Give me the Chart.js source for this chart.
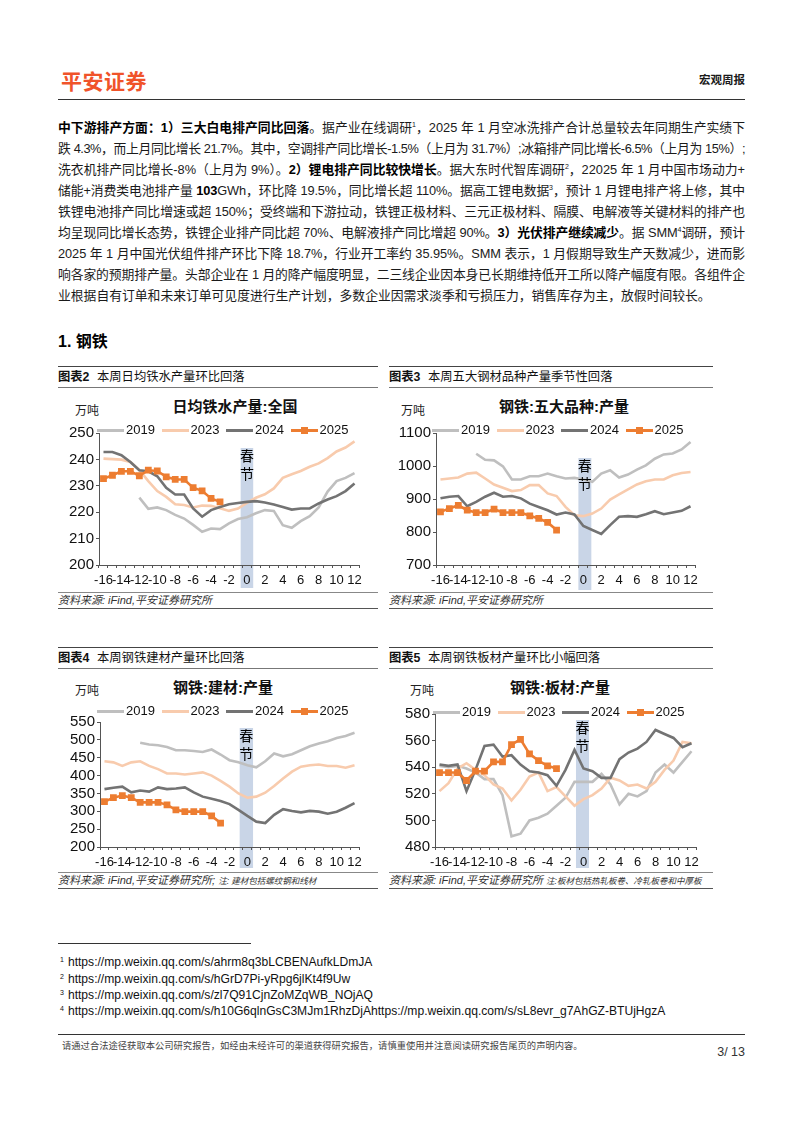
<!DOCTYPE html>
<html lang="zh-CN">
<head>
<meta charset="utf-8">
<title>宏观周报</title>
<script src="https://cdn.jsdelivr.net/npm/chart.js@4.4.1/dist/chart.umd.min.js"></script>
<style>
  html, body { margin: 0; padding: 0; background: #fff; }
  body { width: 802px; height: 1133px; position: relative; overflow: hidden;
         font-family: "Liberation Sans", Arial, "Noto Sans CJK SC", sans-serif; color: #1a1a1a; }
  .abs { position: absolute; }
  .logo { left: 61px; top: 66px; font-size: 21px; font-weight: bold; color: #f0532a;
          font-family: "Noto Sans CJK SC", sans-serif; line-height: 28px; letter-spacing: 0.5px; }
  .rtitle { left: 690px; top: 72px; width: 55px; text-align: right; font-size: 11.5px; font-weight: bold; line-height: 16px; }
  .hline { left: 58px; width: 687px; height: 0; border-top: 1px solid #333; }
  .para { left: 58px; top: 117px; width: 687px; font-size: 12.8px; line-height: 21px; }
  .para div { white-space: nowrap; text-align: justify; text-align-last: justify; }
  .para div.last { text-align-last: left; }
  .para b { color: #000; }
  .para sup { font-size: 7px; vertical-align: 5px; line-height: 0; }
  .sec { left: 58px; top: 331px; font-size: 16px; font-weight: bold; line-height: 22px; color: #000; }
  .cap { height: 20px; border-top: 1.5px solid #444; border-bottom: 1px solid #777;
         font-size: 12.3px; line-height: 20px; color: #111; }
  .cap b { display: inline-block; width: 39px; }
  .src { height: 15px; border-top: 1px solid #888; border-bottom: 1.5px solid #555;
         font-size: 11px; line-height: 15px; font-style: italic; color: #333; white-space: nowrap; }
  .src small { font-size: 8.5px; }
  .ctitle { font-size: 15px; font-weight: bold; line-height: 18px; white-space: nowrap; transform: translateX(-50%); color: #111; }
  .unit { font-size: 12px; line-height: 14px; transform: translateX(-50%); color: #222; }
  .lg { font-size: 13px; line-height: 14px; color: #111; white-space: nowrap; }
  .sw { position: absolute; width: 27px; height: 2.6px; }
  .sq { position: absolute; width: 7px; height: 7px; left: 10px; top: -2.2px; }
  canvas { position: absolute; }
  .fnl { left: 58px; top: 943px; width: 193px; border-top: 1px solid #333; }
  .fn { left: 60px; font-size: 12.1px; line-height: 14px; color: #111; white-space: nowrap; }
  .fn sup { font-size: 7px; vertical-align: 4px; margin-right: 4px; }
  .foot { left: 62px; top: 1040px; font-size: 9.3px; color: #444; line-height: 12px; white-space: nowrap; }
  .page { left: 700px; top: 1045px; width: 45px; text-align: right; font-size: 12.5px; color: #333; }
</style>
</head>
<body>
<div class="abs logo">平安证券</div>
<div class="abs rtitle">宏观周报</div>
<div class="abs hline" style="top:99px;"></div>

<div class="abs para">
  <div><b>中下游排产方面：1）三大白电排产同比回落</b>。据产业在线调研<sup>1</sup>，2025 年 1 月空冰洗排产合计总量较去年同期生产实绩下</div>
  <div>跌 4.3%，而上月同比增长 21.7%。其中，空调排产同比增长-1.5%（上月为 31.7%）;冰箱排产同比增长-6.5%（上月为 15%）;</div>
  <div>洗衣机排产同比增长-8%（上月为 9%）。<b>2）锂电排产同比较快增长</b>。据大东时代智库调研<sup>2</sup>，22025 年 1 月中国市场动力+</div>
  <div>储能+消费类电池排产量 <b>103</b>GWh，环比降 19.5%，同比增长超 110%。据高工锂电数据<sup>3</sup>，预计 1 月锂电排产将上修，其中</div>
  <div>铁锂电池排产同比增速或超 150%；受终端和下游拉动，铁锂正极材料、三元正极材料、隔膜、电解液等关键材料的排产也</div>
  <div>均呈现同比增长态势，铁锂企业排产同比超 70%、电解液排产同比增超 90%。<b>3）光伏排产继续减少</b>。据 SMM<sup>4</sup>调研，预计</div>
  <div>2025 年 1 月中国光伏组件排产环比下降 18.7%，行业开工率约 35.95%。SMM 表示，1 月假期导致生产天数减少，进而影</div>
  <div>响各家的预期排产量。头部企业在 1 月的降产幅度明显，二三线企业因本身已长期维持低开工所以降产幅度有限。各组件企</div>
  <div class="last">业根据自有订单和未来订单可见度进行生产计划，多数企业因需求淡季和亏损压力，销售库存为主，放假时间较长。</div>
</div>

<div class="abs sec">1. 钢铁</div>

<div class="abs cap" style="left:58px; top:366px; width:320px;"><b>图表2</b>本周日均铁水产量环比回落</div>
<div class="abs cap" style="left:389px; top:366px; width:324px;"><b>图表3</b>本周五大钢材品种产量季节性回落</div>
<div class="abs cap" style="left:58px; top:647px; width:320px;"><b>图表4</b>本周钢铁建材产量环比回落</div>
<div class="abs cap" style="left:389px; top:647px; width:324px;"><b>图表5</b>本周钢铁板材产量环比小幅回落</div>

<div class="abs src" style="left:58px; top:592px; width:320px;">资料来源: iFind,平安证券研究所</div>
<div class="abs src" style="left:389px; top:592px; width:324px;">资料来源: iFind,平安证券研究所</div>
<div class="abs src" style="left:58px; top:872px; width:320px;">资料来源: iFind,平安证券研究所; <small>注: 建材包括螺纹钢和线材</small></div>
<div class="abs src" style="left:389px; top:872px; width:324px;">资料来源: iFind,平安证券研究所 <small>注:板材包括热轧板卷、冷轧板卷和中厚板</small></div>

<canvas id="c1" width="310" height="175" style="left:58px; top:420px;"></canvas>
<canvas id="c2" width="320" height="175" style="left:388px; top:420px;"></canvas>
<canvas id="c3" width="310" height="175" style="left:58px; top:700px;"></canvas>
<canvas id="c4" width="320" height="175" style="left:388px; top:700px;"></canvas>

<div class="abs fnl"></div>
<div class="abs fn" style="top:953px;"><sup>1</sup>https://mp.weixin.qq.com/s/ahrm8q3bLCBENAufkLDmJA</div>
<div class="abs fn" style="top:970px;"><sup>2</sup>https://mp.weixin.qq.com/s/hGrD7Pi-yRpg6jlKt4f9Uw</div>
<div class="abs fn" style="top:986px;"><sup>3</sup>https://mp.weixin.qq.com/s/zl7Q91CjnZoMZqWB_NOjAQ</div>
<div class="abs fn" style="top:1002px;"><sup>4</sup>https://mp.weixin.qq.com/s/h10G6qlnGsC3MJm1RhzDjAhttps://mp.weixin.qq.com/s/sL8evr_g7AhGZ-BTUjHgzA</div>

<div class="abs hline" style="top:1034px; border-top:1.5px solid #333;"></div>
<div class="abs foot">请通过合法途径获取本公司研究报告，如经由未经许可的渠道获得研究报告，请慎重使用并注意阅读研究报告尾页的声明内容。</div>
<div class="abs page">3/ 13</div>

<script>
// 春节前后周数 (0 = 春节当周)
const weeks = [-16, -15, -14, -13, -12, -11, -10, -9, -8, -7, -6, -5, -4, -3, -2, -1, 0, 1, 2, 3, 4, 5, 6, 7, 8, 9, 10, 11, 12];
const seriesNames = ['2019', '2023', '2024', '2025'];
const seriesColors = ['#bfbfbf', '#f8cbad', '#737373', '#ed7d31'];

// 日均铁水产量:全国 (万吨)
const iron2019 = [null, null, null, null, 225.5, 221.3, 221.8, 220.8, 219.0, 217.6, 215.2, 212.6, 213.8, 213.6, 215.8, 217.4, 218.1, 219.6, 220.8, 220.5, 215.1, 214.1, 216.6, 218.5, 221.8, 227.8, 231.8, 233.0, 234.8];
const iron2023 = [240.3, 240.1, 239.9, 239.0, 236.0, 231.8, 228.0, 225.8, 223.0, 222.7, 221.8, 222.5, 222.4, 221.5, 220.5, 221.4, 223.5, 225.5, 226.8, 229.0, 233.0, 234.4, 235.6, 237.2, 238.5, 240.5, 243.0, 244.5, 246.8];
const iron2024 = [242.8, 242.8, 241.6, 239.0, 235.9, 235.5, 233.6, 229.2, 226.7, 226.7, 221.4, 218.3, 220.8, 222.0, 223.0, 223.5, 223.9, 224.2, 223.7, 222.9, 222.0, 221.0, 221.4, 221.4, 223.3, 224.8, 226.1, 228.0, 230.9];
const iron2025 = [232.7, 234.0, 235.5, 235.5, 233.8, 235.9, 235.6, 233.4, 232.4, 232.4, 229.3, 228.1, 225.2, 223.9];

// 钢铁:五大品种:产量 (万吨)
const five2019 = [null, null, null, null, 1037, 1019, 1017, 999, 959, 959, 969, 969, 977, 969, 962, 964, 959, 952, 977, 987, 965, 974, 989, 1002, 1022, 1035, 1038, 1050, 1073];
const five2023 = [959, 962, 965, 977, 980, 962, 944, 934, 924, 927, 942, 942, 917, 909, 876, 851, 848, 856, 871, 898, 914, 929, 944, 954, 959, 959, 972, 979, 982];
const five2024 = [902, 907, 909, 878, 891, 907, 919, 907, 909, 902, 886, 876, 866, 853, 859, 853, 818, 806, 794, 821, 846, 848, 846, 854, 863, 854, 859, 864, 878];
const five2025 = [861, 871, 881, 866, 859, 859, 869, 859, 859, 859, 849, 841, 829, 806];

// 钢铁:建材:产量 (万吨)
const rebar2019 = [null, null, null, null, 492, 487, 485, 480, 471, 471, 469, 466, 473, 459, 443, 437, 429, 423, 440, 462, 454, 460, 471, 482, 490, 496, 505, 511, 520];
const rebar2023 = [440, 437, 427, 437, 440, 427, 418, 406, 406, 403, 406, 409, 400, 385, 369, 350, 338, 341, 352, 371, 392, 411, 425, 429, 431, 427, 427, 422, 429];
const rebar2024 = [362, 366, 369, 353, 358, 355, 367, 362, 364, 367, 353, 341, 335, 329, 320, 304, 287, 271, 267, 290, 306, 301, 297, 301, 299, 293, 299, 310, 323];
const rebar2025 = [327, 338, 344, 338, 325, 325, 325, 318, 304, 299, 299, 299, 287, 267];

// 钢铁:板材:产量 (万吨)
const plate2019 = [541, 540, 541, 539, 536, 531, 531, 519, 488, 490, 500, 502, 505, 511, 517, 529, 529, 529, 535, 527, 512, 520, 518, 522, 536, 542, 536, 544, 552];
const plate2023 = [522, 528, 539, 543, 538, 534, 527, 524, 515, 523, 533, 536, 522, 525, 518, 511, 516, 519, 524, 532, 530, 526, 527, 524, 529, 538, 545, 559, 558];
const plate2024 = [542, 541, 542, 522, 538, 556, 557, 548, 549, 542, 537, 536, 534, 526, 538, 553, 539, 537, 532, 532, 546, 551, 554, 559, 568, 565, 562, 555, 558];
const plate2025 = [536, 536, 536, 530, 537, 537, 544, 544, 557, 561, 550, 545, 541, 539];

// squeeze any paragraph line that is wider than the column
document.querySelectorAll('.para div').forEach(line => {
    const over = line.scrollWidth - line.clientWidth;
    if (over > 0) {
        const n = line.textContent.replace(/\s+/g, '').length;
        line.style.letterSpacing = (-(over + 2) / n) + 'px';
    }
});

// 春节 shaded band, drawn at the week-0 category
const springBand = {
    id: 'springBand',
    beforeDraw(chart, args, opts) {
        const x = chart.scales.x;
        const ctx = chart.ctx;
        const i0 = weeks.indexOf(0);
        const step = x.getPixelForValue(1) - x.getPixelForValue(0);
        const w = step * opts.widthRatio;
        const cx = x.getPixelForValue(i0) + opts.shift;
        const top = chart.chartArea.top + opts.top;
        const bottom = chart.chartArea.bottom + opts.below;
        ctx.save();
        ctx.fillStyle = '#c9d5e7';
        ctx.fillRect(cx - w / 2, top, w, bottom - top);
        ctx.restore();
    },
    afterDatasetsDraw(chart, args, opts) {
        const x = chart.scales.x;
        const ctx = chart.ctx;
        const cx = x.getPixelForValue(weeks.indexOf(0)) + opts.shift;
        const top = chart.chartArea.top + opts.top;
        ctx.save();
        ctx.fillStyle = '#000';
        ctx.font = '14px "Noto Sans CJK SC"';
        ctx.textAlign = 'center';
        ctx.textBaseline = 'top';
        ctx.fillText('春', cx, top + 1);
        ctx.fillText('节', cx, top + 19);
        ctx.restore();
    }
};

function buildChart(id, series, cfg) {
    const datasets = series.map((data, i) => ({
        label: seriesNames[i],
        data: data,
        borderColor: seriesColors[i],
        backgroundColor: seriesColors[i],
        borderWidth: 2.6,
        pointRadius: i === 3 ? 4.8 : 0,
        pointStyle: 'rect',
        pointBorderWidth: 0,
        tension: 0,
        order: 4 - i
    }));

    new Chart(document.getElementById(id), {
        type: 'line',
        data: { labels: weeks.map(String), datasets: datasets },
        options: {
            responsive: false,
            animation: false,
            layout: { padding: { left: 0, right: cfg.padRight, top: cfg.padTop, bottom: 0 } },
            plugins: {
                legend: { display: false },
                tooltip: { enabled: false },
                springBand: cfg.band
            },
            scales: {
                x: {
                    type: 'category',
                    offset: true,
                    grid: { offset: true, drawOnChartArea: false, tickLength: 3, color: '#555' },
                    border: { color: '#555', width: 1 },
                    ticks: {
                        autoSkip: false,
                        maxRotation: 0,
                        padding: 5,
                        color: '#111',
                        font: { size: 13, family: '"Liberation Sans", Arial' },
                        callback: (v, i) => (weeks[i] % 2 === 0 ? String(weeks[i]) : '')
                    },
                    afterFit: s => { s.height = cfg.xHeight; }
                },
                y: {
                    min: cfg.min,
                    max: cfg.max,
                    grid: { drawOnChartArea: false, tickLength: 3, color: '#555' },
                    border: { color: '#555', width: 1 },
                    ticks: {
                        stepSize: cfg.step,
                        autoSkip: false,
                        padding: 2,
                        color: '#111',
                        font: { size: 15, family: '"Liberation Sans", Arial' },
                        callback: v => String(v)
                    },
                    afterFit: s => { s.width = cfg.yWidth; }
                }
            }
        },
        plugins: [springBand]
    });
}

function addText(cls, text, x, y) {
    const d = document.createElement('div');
    d.className = 'abs ' + cls;
    d.style.left = x + 'px';
    d.style.top = y + 'px';
    d.textContent = text;
    document.body.appendChild(d);
}

function addLegend(x, y) {
    seriesNames.forEach((name, i) => {
        const item = document.createElement('div');
        item.className = 'abs lg';
        item.style.left = (x + i * 64.5) + 'px';
        item.style.top = (y - 7) + 'px';
        const sw = document.createElement('div');
        sw.className = 'sw';
        sw.style.background = seriesColors[i];
        sw.style.left = '0px';
        sw.style.top = '6px';
        if (i === 3) {
            const sq = document.createElement('div');
            sq.className = 'sq';
            sq.style.background = seriesColors[i];
            sw.appendChild(sq);
        }
        item.appendChild(sw);
        const t = document.createElement('span');
        t.style.marginLeft = '29px';
        t.textContent = name;
        item.appendChild(t);
        document.body.appendChild(item);
    });
}

buildChart('c1', [iron2019, iron2023, iron2024, iron2025], {
    min: 200, max: 250, step: 10, yWidth: 41, padRight: 9, padTop: 13, xHeight: 30,
    band: { widthRatio: 1.4, shift: 0, top: 15, below: 23 }
});
buildChart('c2', [five2019, five2023, five2024, five2025], {
    min: 700, max: 1100, step: 100, yWidth: 48, padRight: 13, padTop: 13, xHeight: 30,
    band: { widthRatio: 1.45, shift: 1.5, top: 25, below: 25 }
});
buildChart('c3', [rebar2019, rebar2023, rebar2024, rebar2025], {
    min: 200, max: 550, step: 50, yWidth: 42, padRight: 9, padTop: 22, xHeight: 28,
    band: { widthRatio: 1.5, shift: -1, top: 6, below: 21 }
});
buildChart('c4', [plate2019, plate2023, plate2024, plate2025], {
    min: 480, max: 580, step: 20, yWidth: 47, padRight: 12, padTop: 14, xHeight: 28,
    band: { widthRatio: 1.45, shift: -1, top: 6, below: 21 }
});

addText('ctitle', '日均铁水产量:全国', 235, 398);
addText('ctitle', '钢铁:五大品种:产量', 564, 398);
addText('ctitle', '钢铁:建材:产量', 223, 679);
addText('ctitle', '钢铁:板材:产量', 560, 679);
addText('unit', '万吨', 87, 404);
addText('unit', '万吨', 413, 404);
addText('unit', '万吨', 87, 684);
addText('unit', '万吨', 422, 684);
addLegend(97, 430);
addLegend(432, 430);
addLegend(97, 711);
addLegend(433, 712);
</script>
</body>
</html>
